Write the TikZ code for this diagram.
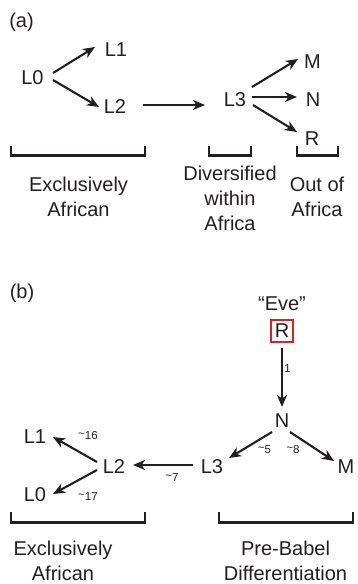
\documentclass[tikz,border=0pt]{standalone}
\usepackage{fontspec}
\setmainfont{Liberation Sans}
\usetikzlibrary{arrows.meta}
\definecolor{txt}{HTML}{231F20}
\definecolor{boxred}{HTML}{E31E24}
\tikzset{
  lab/.style={font=\fontsize{20}{25}\selectfont, text=txt, inner sep=1pt, align=center},
  small/.style={font=\fontsize{11.5}{13}\selectfont, text=txt, inner sep=0pt},
  arr/.style={line width=2.1pt, txt, -{Stealth[length=12pt,width=10pt,inset=3.5pt]}},
  brk/.style={line width=2.2pt, txt, line cap=butt}
}
\newcommand{\cc}[2]{([shift={(#1)}]#2.center)}
\newcommand{\tld}{\raisebox{0.2em}{\textasciitilde}}
\begin{document}
\begin{tikzpicture}[x=1pt,y=-1pt]
\useasboundingbox (0,0) rectangle (357,584);
% ---------- (a)
\node[lab] (pa) at (21.5,22) {(a)};
\node[lab] (a0) at (32.5,77.5) {L0};
\node[lab] (a1) at (116,49.5) {L1};
\node[lab] (a2) at (115,106.5) {L2};
\node[lab] (a3) at (235,100) {L3};
\node[lab] (aM) at (312.5,61.5) {M};
\node[lab] (aN) at (313,99.5) {N};
\node[lab] (aR) at (312,138.5) {R};
\draw[arr] \cc{20.5,-4.5}{a0} -- \cc{-21,-2.5}{a1};
\draw[arr] \cc{20.5,2.5}{a0} -- \cc{-16,0.5}{a2};
\draw[arr] \cc{28,-1.5}{a2} -- \cc{-30,5}{a3};
\draw[arr] \cc{17,-13}{a3} -- \cc{-14.5,-2.5}{aM};
\draw[arr] \cc{17,-3}{a3} -- \cc{-16,-2.5}{aN};
\draw[arr] \cc{18,5}{a3} -- \cc{-15,-6.5}{aR};
% brackets (a)
\coordinate (b1l) at (11,146); \coordinate (b1r) at (145,146);
\coordinate (b2l) at (209,146); \coordinate (b2r) at (251,146);
\coordinate (b3l) at (297,146); \coordinate (b3r) at (338,146);
\draw[brk] (b1l) -- ++(0,9.5) -| (b1r);
\draw[brk] (b2l) -- ++(0,9.5) -| (b2r);
\draw[brk] (b3l) -- ++(0,9.5) -| (b3r);
\node[lab] (ta1) at (78.5,197) {Exclusively\\African};
\node[lab] (ta2) at (230,198) {Diversified\\within\\Africa};
\node[lab] (ta3) at (317,197) {Out of\\Africa};
% ---------- (b)
\node[lab] (pb) at (22,293) {(b)};
\node[lab] (eve) at (282,304) {“Eve”};
\node[lab, draw=boxred, line width=2pt, minimum size=22pt, inner sep=0.5pt] (bR) at (282,331) {R};
\node[lab] (bN) at (282,421) {N};
\node[lab] (b3) at (212,467) {L3};
\node[lab] (bM) at (346,467) {M};
\node[lab] (b2) at (114,467) {L2};
\node[lab] (b1) at (35,437) {L1};
\node[lab] (b0) at (35,495) {L0};
\draw[arr] \cc{0,17}{bR} -- \cc{0,-14}{bN};
\draw[arr] \cc{-10,11}{bN} -- \cc{17,-9}{b3};
\draw[arr] \cc{8,11}{bN} -- \cc{-12,-6}{bM};
\draw[arr] \cc{-19,-2}{b3} -- \cc{19,-2}{b2};
\draw[arr] \cc{-17,-5}{b2} -- \cc{18,0}{b1};
\draw[arr] \cc{-17,3}{b2} -- \cc{18,-1}{b0};
\node[small] (l1) at (287.5,369) {1};
\node[small] (l5) at (264.5,450) {\tld5};
\node[small] (l8) at (293,450) {\tld8};
\node[small] (l7) at (172,478) {\tld7};
\node[small] (l16) at (88,436) {\tld16};
\node[small] (l17) at (88,497) {\tld17};
% brackets (b)
\coordinate (b4l) at (11,512); \coordinate (b4r) at (145,512);
\coordinate (b5l) at (219,512); \coordinate (b5r) at (353,512);
\draw[brk] (b4l) -- ++(0,10.5) -| (b4r);
\draw[brk] (b5l) -- ++(0,10.5) -| (b5r);
\node[lab] (tb1) at (63,560.5) {Exclusively\\African};
\node[lab] (tb2) at (285.5,560.5) {Pre-Babel\\Differentiation};
\end{tikzpicture}
\end{document}
